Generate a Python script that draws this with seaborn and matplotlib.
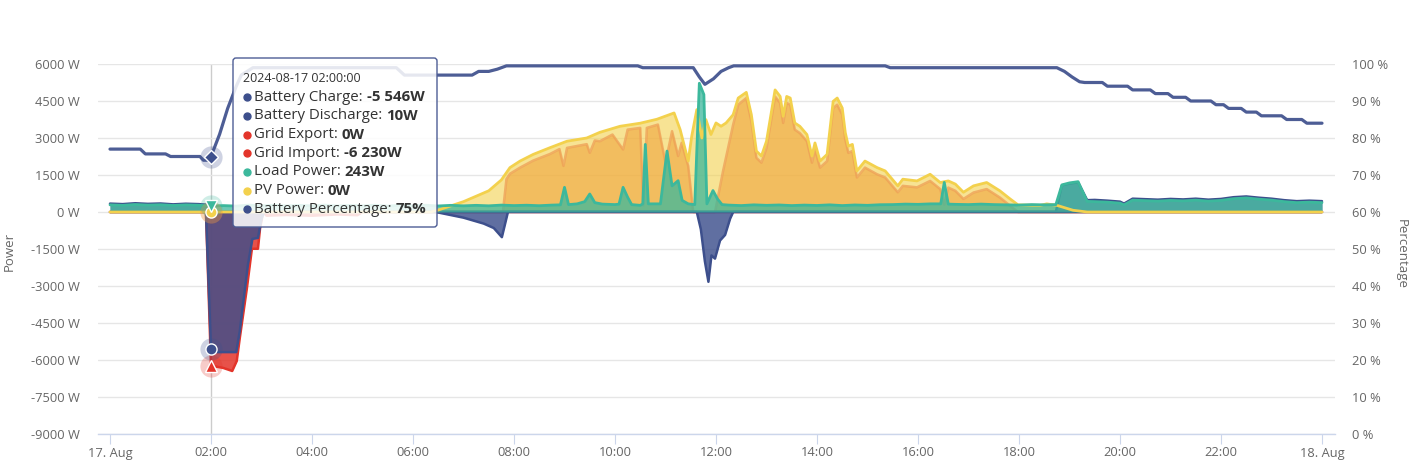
import numpy as np
import matplotlib
matplotlib.use("Agg")
import matplotlib.pyplot as plt
from matplotlib.patches import FancyBboxPatch
from matplotlib.lines import Line2D
from matplotlib.transforms import IdentityTransform
import seaborn as sns

# (hour since 17 Aug 00:00, value)
battery_charge = [(0, 0), (1.9, 0), (2.0, -5546), (2.1, -5680), (2.5, -5680), (2.57, -4830),
                  (2.73, -2150), (2.82, -1090), (2.93, -1050), (3.0, -280), (3.05, 0),
                  (6.45, 0), (7.0, -230), (7.4, -470), (7.6, -650), (7.76, -1020), (7.88, 0),
                  (11.62, 0), (11.7, -700), (11.78, -2000), (11.85, -2830), (11.91, -1760),
                  (11.98, -1890), (12.08, -1155), (12.18, -930), (12.28, -270), (12.34, 0), (24, 0)]

battery_discharge = [(0, 340), (0.25, 320), (0.5, 355), (0.75, 330), (1.0, 345), (1.25, 310),
                     (1.5, 335), (1.75, 320), (1.9, 300), (1.95, 10), (18.73, 10), (18.85, 1080),
                     (19.0, 1150), (19.17, 1200), (19.35, 480), (19.5, 490),
                     (19.75, 460), (20.0, 420), (20.08, 340), (20.25, 540), (20.5, 520),
                     (20.75, 500), (21.0, 530), (21.25, 510), (21.5, 540), (21.75, 500),
                     (22.0, 530), (22.25, 600), (22.5, 630), (22.75, 580), (23.0, 540),
                     (23.25, 480), (23.5, 440), (23.75, 460), (24, 440)]

grid_export = [(0, 0), (7.78, 0), (7.85, 1330), (7.92, 1550), (8.12, 1800), (8.38, 2085),
               (8.71, 2350), (8.9, 2550), (8.98, 1870), (9.05, 2600), (9.44, 2750), (9.5, 2400),
               (9.6, 2900), (9.7, 2870), (9.95, 3140), (10.16, 2535), (10.25, 3340), (10.5, 3410),
               (10.56, 270), (10.63, 3410), (10.85, 3545), (11.0, 2000), (11.13, 3275),
               (11.25, 2270), (11.32, 2805), (11.45, 1865), (11.55, 0), (11.98, 0), (12.14, 1665),
               (12.34, 3545), (12.44, 4350), (12.6, 4620), (12.7, 3680), (12.8, 2200), (12.9, 2000),
               (13.0, 2600), (13.17, 4680), (13.27, 4420), (13.33, 3610), (13.4, 4420),
               (13.47, 4350), (13.56, 3340), (13.66, 3200), (13.8, 2870), (13.9, 2000),
               (13.96, 2530), (14.06, 1800), (14.2, 2065), (14.32, 4215), (14.4, 4350),
               (14.5, 3945), (14.56, 2950), (14.62, 2400), (14.7, 2470), (14.79, 1400),
               (14.95, 1800), (15.19, 1530), (15.35, 1400), (15.6, 800), (15.7, 1060),
               (15.98, 1000), (16.24, 1260), (16.44, 930), (16.52, 300), (16.6, 990),
               (16.74, 860), (16.9, 530), (17.1, 790), (17.36, 930), (17.62, 590),
               (17.82, 260), (17.98, 0), (24, 0)]

grid_import = [(0, 0), (1.9, 0), (2.0, -6230), (2.24, -6320), (2.42, -6445), (2.51, -6040),
               (2.57, -5110), (2.71, -3100), (2.81, -1490), (2.93, -1490), (2.97, -685),
               (3.03, 0), (3.1, -150), (3.5, -120), (4.0, -150), (4.5, -100), (4.9, -130),
               (5.0, 0), (24, 0)]

load_power = [(0, 290), (0.25, 270), (0.5, 305), (0.75, 280), (1.0, 295), (1.25, 265),
              (1.5, 290), (1.75, 275), (2.0, 243), (2.25, 260), (2.5, 240), (2.75, 280),
              (3.0, 250), (3.25, 275), (3.5, 245), (3.75, 270), (4.0, 250), (4.25, 280),
              (4.5, 245), (4.75, 265), (5.0, 250), (5.25, 275), (5.5, 240), (5.75, 270),
              (6.0, 250), (6.25, 275), (6.5, 245), (6.75, 270), (7.0, 250), (7.25, 270),
              (7.5, 250), (7.75, 280), (8.0, 260), (8.25, 275), (8.5, 255), (8.75, 280),
              (8.92, 290), (9.0, 1000), (9.08, 300), (9.25, 330), (9.4, 420), (9.5, 730),
              (9.6, 380), (9.75, 320), (10.0, 300), (10.08, 320), (10.16, 1000), (10.25, 600),
              (10.33, 300), (10.5, 270), (10.55, 330), (10.6, 2740), (10.66, 330), (10.9, 330),
              (11.03, 2470), (11.13, 1060), (11.25, 1270), (11.33, 470), (11.45, 330),
              (11.58, 300), (11.67, 5220), (11.76, 4760), (11.82, 330), (11.94, 870),
              (12.03, 530), (12.12, 300), (12.25, 280), (12.5, 260), (12.75, 290), (13.0, 270),
              (13.25, 285), (13.5, 260), (13.75, 280), (14.0, 265), (14.25, 290), (14.5, 260),
              (14.75, 285), (15.0, 270), (15.25, 295), (15.5, 300), (15.75, 320), (16.0, 310),
              (16.25, 330), (16.45, 330), (16.52, 1200), (16.6, 320), (16.75, 310), (17.0, 300),
              (17.25, 320), (17.5, 300), (17.75, 290), (18.0, 280), (18.25, 300), (18.5, 290),
              (18.73, 300), (18.85, 1100), (19.0, 1180), (19.17, 1230), (19.35, 430),
              (19.5, 420), (19.75, 400), (20.0, 360), (20.08, 290), (20.25, 480), (20.5, 460),
              (20.75, 440), (21.0, 470), (21.25, 450), (21.5, 480), (21.75, 440), (22.0, 470),
              (22.25, 540), (22.5, 570), (22.75, 520), (23.0, 480), (23.25, 420), (23.5, 380),
              (23.75, 400), (24, 380)]

pv_power = [(0, 0), (6.35, 0), (6.5, 80), (7.0, 420), (7.5, 860), (7.75, 1300), (7.92, 1800),
            (8.12, 2065), (8.38, 2335), (8.71, 2605), (9.05, 2870), (9.44, 3000), (9.7, 3230),
            (10.1, 3475), (10.5, 3600), (10.83, 3760), (11.17, 4015), (11.29, 3340),
            (11.45, 2065), (11.52, 3080), (11.62, 4150), (11.72, 3000), (11.8, 3745),
            (11.9, 3140), (12.0, 3610), (12.1, 3475), (12.2, 3610), (12.34, 3945), (12.44, 4620),
            (12.6, 4850), (12.7, 3945), (12.8, 2470), (12.9, 2270), (13.0, 2870), (13.17, 4950),
            (13.27, 4685), (13.33, 3880), (13.4, 4685), (13.47, 4620), (13.56, 3610),
            (13.66, 3475), (13.8, 3140), (13.9, 2270), (13.96, 2800), (14.06, 2065),
            (14.2, 2335), (14.32, 4485), (14.4, 4620), (14.5, 4215), (14.56, 3220),
            (14.62, 2670), (14.7, 2740), (14.79, 1665), (14.95, 2065), (15.19, 1800),
            (15.35, 1665), (15.6, 1060), (15.7, 1330), (15.98, 1260), (16.24, 1530),
            (16.44, 1195), (16.6, 1260), (16.74, 1130), (16.9, 800), (17.1, 1060),
            (17.36, 1195), (17.62, 860), (17.82, 535), (17.98, 290), (18.42, 270),
            (18.55, 330), (18.75, 270), (19.07, 70), (19.35, 0), (24, 0)]

battery_pct = [(0, 77), (0.6, 77), (0.7, 75.7), (1.1, 75.7), (1.2, 75), (1.78, 75), (1.85, 74),
               (1.95, 74), (2.0, 75), (2.17, 81), (2.33, 88), (2.5, 94), (2.6, 97), (2.83, 99),
               (5.67, 99), (5.83, 97), (7.17, 97), (7.3, 98), (7.5, 98), (7.67, 98.6),
               (7.85, 99.5), (10.45, 99.5), (10.55, 99), (11.55, 99), (11.67, 96.5),
               (11.78, 94.5), (11.95, 96), (12.1, 98), (12.25, 99), (12.35, 99.5), (15.35, 99.5),
               (15.45, 99), (18.75, 99), (18.9, 98), (19.05, 96.5), (19.2, 95.2), (19.3, 95),
               (19.65, 95), (19.75, 94), (20.15, 94), (20.25, 93), (20.6, 93), (20.7, 92),
               (20.95, 92), (21.05, 91), (21.3, 91), (21.4, 90), (21.8, 90), (21.9, 89),
               (22.05, 89), (22.15, 88), (22.4, 88), (22.5, 87), (22.7, 87), (22.8, 86),
               (23.2, 86), (23.3, 85), (23.6, 85), (23.7, 84), (24, 84)]

x_tick_labels = ["17. Aug", "02:00", "04:00", "06:00", "08:00", "10:00", "12:00",
                 "14:00", "16:00", "18:00", "20:00", "22:00", "18. Aug"]

tooltip_title = "2024-08-17 02:00:00"
tooltip_labels = ["Battery Charge: ", "Battery Discharge: ", "Grid Export: ", "Grid Import: ",
                  "Load Power: ", "PV Power: ", "Battery Percentage: "]
tooltip_values = ["-5 546W", "10W", "0W", "-6 230W", "243W", "0W", "75%"]

BATT = "#3d4f8c"
BATT_LINE = "#4d5d95"
RED = "#e3342a"
ORANGE = "#f0a43c"
TEAL = "#3cb89c"
YELLOW = "#f3d14d"
TEXT = "#666666"


def xy(points):
    a = np.array(points, dtype=float)
    return a[:, 0], a[:, 1]


sns.set_theme(style="white")
plt.rcParams["font.family"] = ["Open Sans", "DejaVu Sans"]

W, H = 1424, 466
fig = plt.figure(figsize=(W / 100, H / 100), dpi=100)
ax = fig.add_axes([98 / W, 1 - 434 / H, (1335 - 98) / W, (434 - 64) / H])
ax2 = ax.twinx()

# areas
t, v = xy(pv_power)
ax.fill_between(t, 0, v, color=YELLOW, alpha=0.6, lw=0, zorder=1)
sns.lineplot(x=t, y=v, ax=ax, color=YELLOW, lw=2, estimator=None, zorder=5)

t, v = xy(grid_export)
ax.fill_between(t, 0, v, color=ORANGE, alpha=0.6, lw=0, zorder=2)
sns.lineplot(x=t, y=v, ax=ax, color="#ee9f55", alpha=0.75, lw=1.8, estimator=None, zorder=2.1)

t, v = xy(grid_import)
ax.fill_between(t, 0, v, color=RED, alpha=0.85, lw=0, zorder=2)
sns.lineplot(x=t, y=v, ax=ax, color=RED, lw=1.8, estimator=None, zorder=2.1)

t, v = xy(battery_charge)
ax.fill_between(t, 0, v, color=BATT, alpha=0.82, lw=0, zorder=3)
sns.lineplot(x=t, y=v, ax=ax, color=BATT, lw=1.8, estimator=None, zorder=3.1)

t, v = xy(battery_discharge)
ax.fill_between(t, 0, v, color=BATT, alpha=0.7, lw=0, zorder=3)
sns.lineplot(x=t, y=v, ax=ax, color=BATT, lw=1.8, estimator=None, zorder=3.5)

t, v = xy(load_power)
ax.fill_between(t, 0, v, color=TEAL, alpha=0.75, lw=0, zorder=4)
sns.lineplot(x=t, y=v, ax=ax, color=TEAL, lw=2, estimator=None, zorder=6)

t, v = xy(battery_pct)
sns.lineplot(x=t, y=v, ax=ax2, color=BATT_LINE, lw=2.3, estimator=None, zorder=3,
             solid_joinstyle="round")

# crosshair and hover markers at 02:00
ax.axvline(2, color="#cccccc", lw=1, zorder=0.5)
ax.plot(2, 0, "o", ms=16, color=RED, alpha=0.2, mew=0, zorder=7)
ax.plot(2, 0, "o", ms=16, color=YELLOW, alpha=0.25, mew=0, zorder=7)
ax.plot(2, 0, "o", ms=8, color=YELLOW, mec="white", mew=1, zorder=8)
ax.plot(2, 243, "o", ms=16, color=TEAL, alpha=0.25, mew=0, zorder=7)
ax.plot(2, 243, "v", ms=9, color=TEAL, mec="white", mew=1, zorder=8)
ax.plot(2, -6230, "o", ms=16, color=RED, alpha=0.25, mew=0, zorder=7)
ax.plot(2, -6230, "^", ms=9, color=RED, mec="white", mew=1, zorder=8)
ax.plot(2, -5546, "o", ms=16, color=BATT, alpha=0.25, mew=0, zorder=7)
ax.plot(2, -5546, "o", ms=8, color=BATT, mec="white", mew=1, zorder=8)
ax2.plot(2, 75, "o", ms=16, color=BATT, alpha=0.25, mew=0, zorder=7)
ax2.plot(2, 75, "D", ms=7, color=BATT, mec="white", mew=1, zorder=8)

# axes styling
ax.set_xlim(-12 / 50.5, 24 + 13 / 50.5)
ax.set_ylim(-9000, 6000)
ax2.set_ylim(0, 100)
ax.set_xticks(range(0, 25, 2))
ax.set_xticklabels(x_tick_labels)
yt = list(range(-9000, 6001, 1500))
ax.set_yticks(yt)
ax.set_yticklabels([f"{y} W" for y in yt])
ax2.set_yticks(range(0, 101, 10))
ax2.set_yticklabels([f"{p} %" for p in range(0, 101, 10)])
ax.yaxis.grid(True, color="#e6e6e6", lw=1)
ax.xaxis.grid(False)
ax2.grid(False)
ax.set_axisbelow(True)
for a in (ax, ax2):
    for s in a.spines.values():
        s.set_visible(False)
    a.set_xlabel("")
    a.set_ylabel("")
ax.spines["bottom"].set_visible(True)
ax.spines["bottom"].set_color("#ccd6eb")
ax.spines["bottom"].set_linewidth(1)
ax.spines["bottom"].set_zorder(0.6)
ax.tick_params(axis="x", length=7, width=0.8, color="#ccd6eb", labelsize=9.3,
               labelcolor=TEXT, pad=2, direction="out", bottom=True)
ax.tick_params(axis="y", length=0, labelsize=9.3, labelcolor=TEXT, pad=13)
ax2.tick_params(axis="y", length=0, labelsize=9.3, labelcolor=TEXT, pad=12)

fig.text(9.5 / W, 1 - 251 / H, "Power", rotation=90, ha="center", va="center",
         color=TEXT, fontsize=9.5)
fig.text(1401 / W, 1 - 254 / H, "Percentage", rotation=270, ha="center", va="center",
         color=TEXT, fontsize=9.5)

# tooltip
box = FancyBboxPatch((233, H - 227), 204, 169, boxstyle="round,pad=0,rounding_size=3",
                     transform=IdentityTransform(), fc=(1, 1, 1, 0.86), ec=BATT_LINE, lw=1,
                     zorder=20)
fig.add_artist(box)
fig.text(243 / W, 1 - 78 / H, tooltip_title, fontsize=9, color="#333333",
         va="center", ha="left", zorder=21)
renderer = fig.canvas.get_renderer()
dot_colors = [BATT, BATT, RED, RED, TEAL, YELLOW, BATT]
for i, (lab, val) in enumerate(zip(tooltip_labels, tooltip_values)):
    yy = 1 - (97.3 + i * 18.65) / H
    fig.add_artist(Line2D([246.5 / W], [yy], marker="o", ms=5, color=dot_colors[i],
                          transform=fig.transFigure, zorder=21))
    tl = fig.text(254 / W, yy, lab, fontsize=10.8, color="#333333", va="center",
                  ha="left", zorder=21)
    bb = tl.get_window_extent(renderer=renderer)
    fig.text(bb.x1 / W, yy, val, fontsize=10.8, color="#333333", fontweight="bold",
             va="center", ha="left", zorder=21)

fig.savefig("out.png", dpi=100)
